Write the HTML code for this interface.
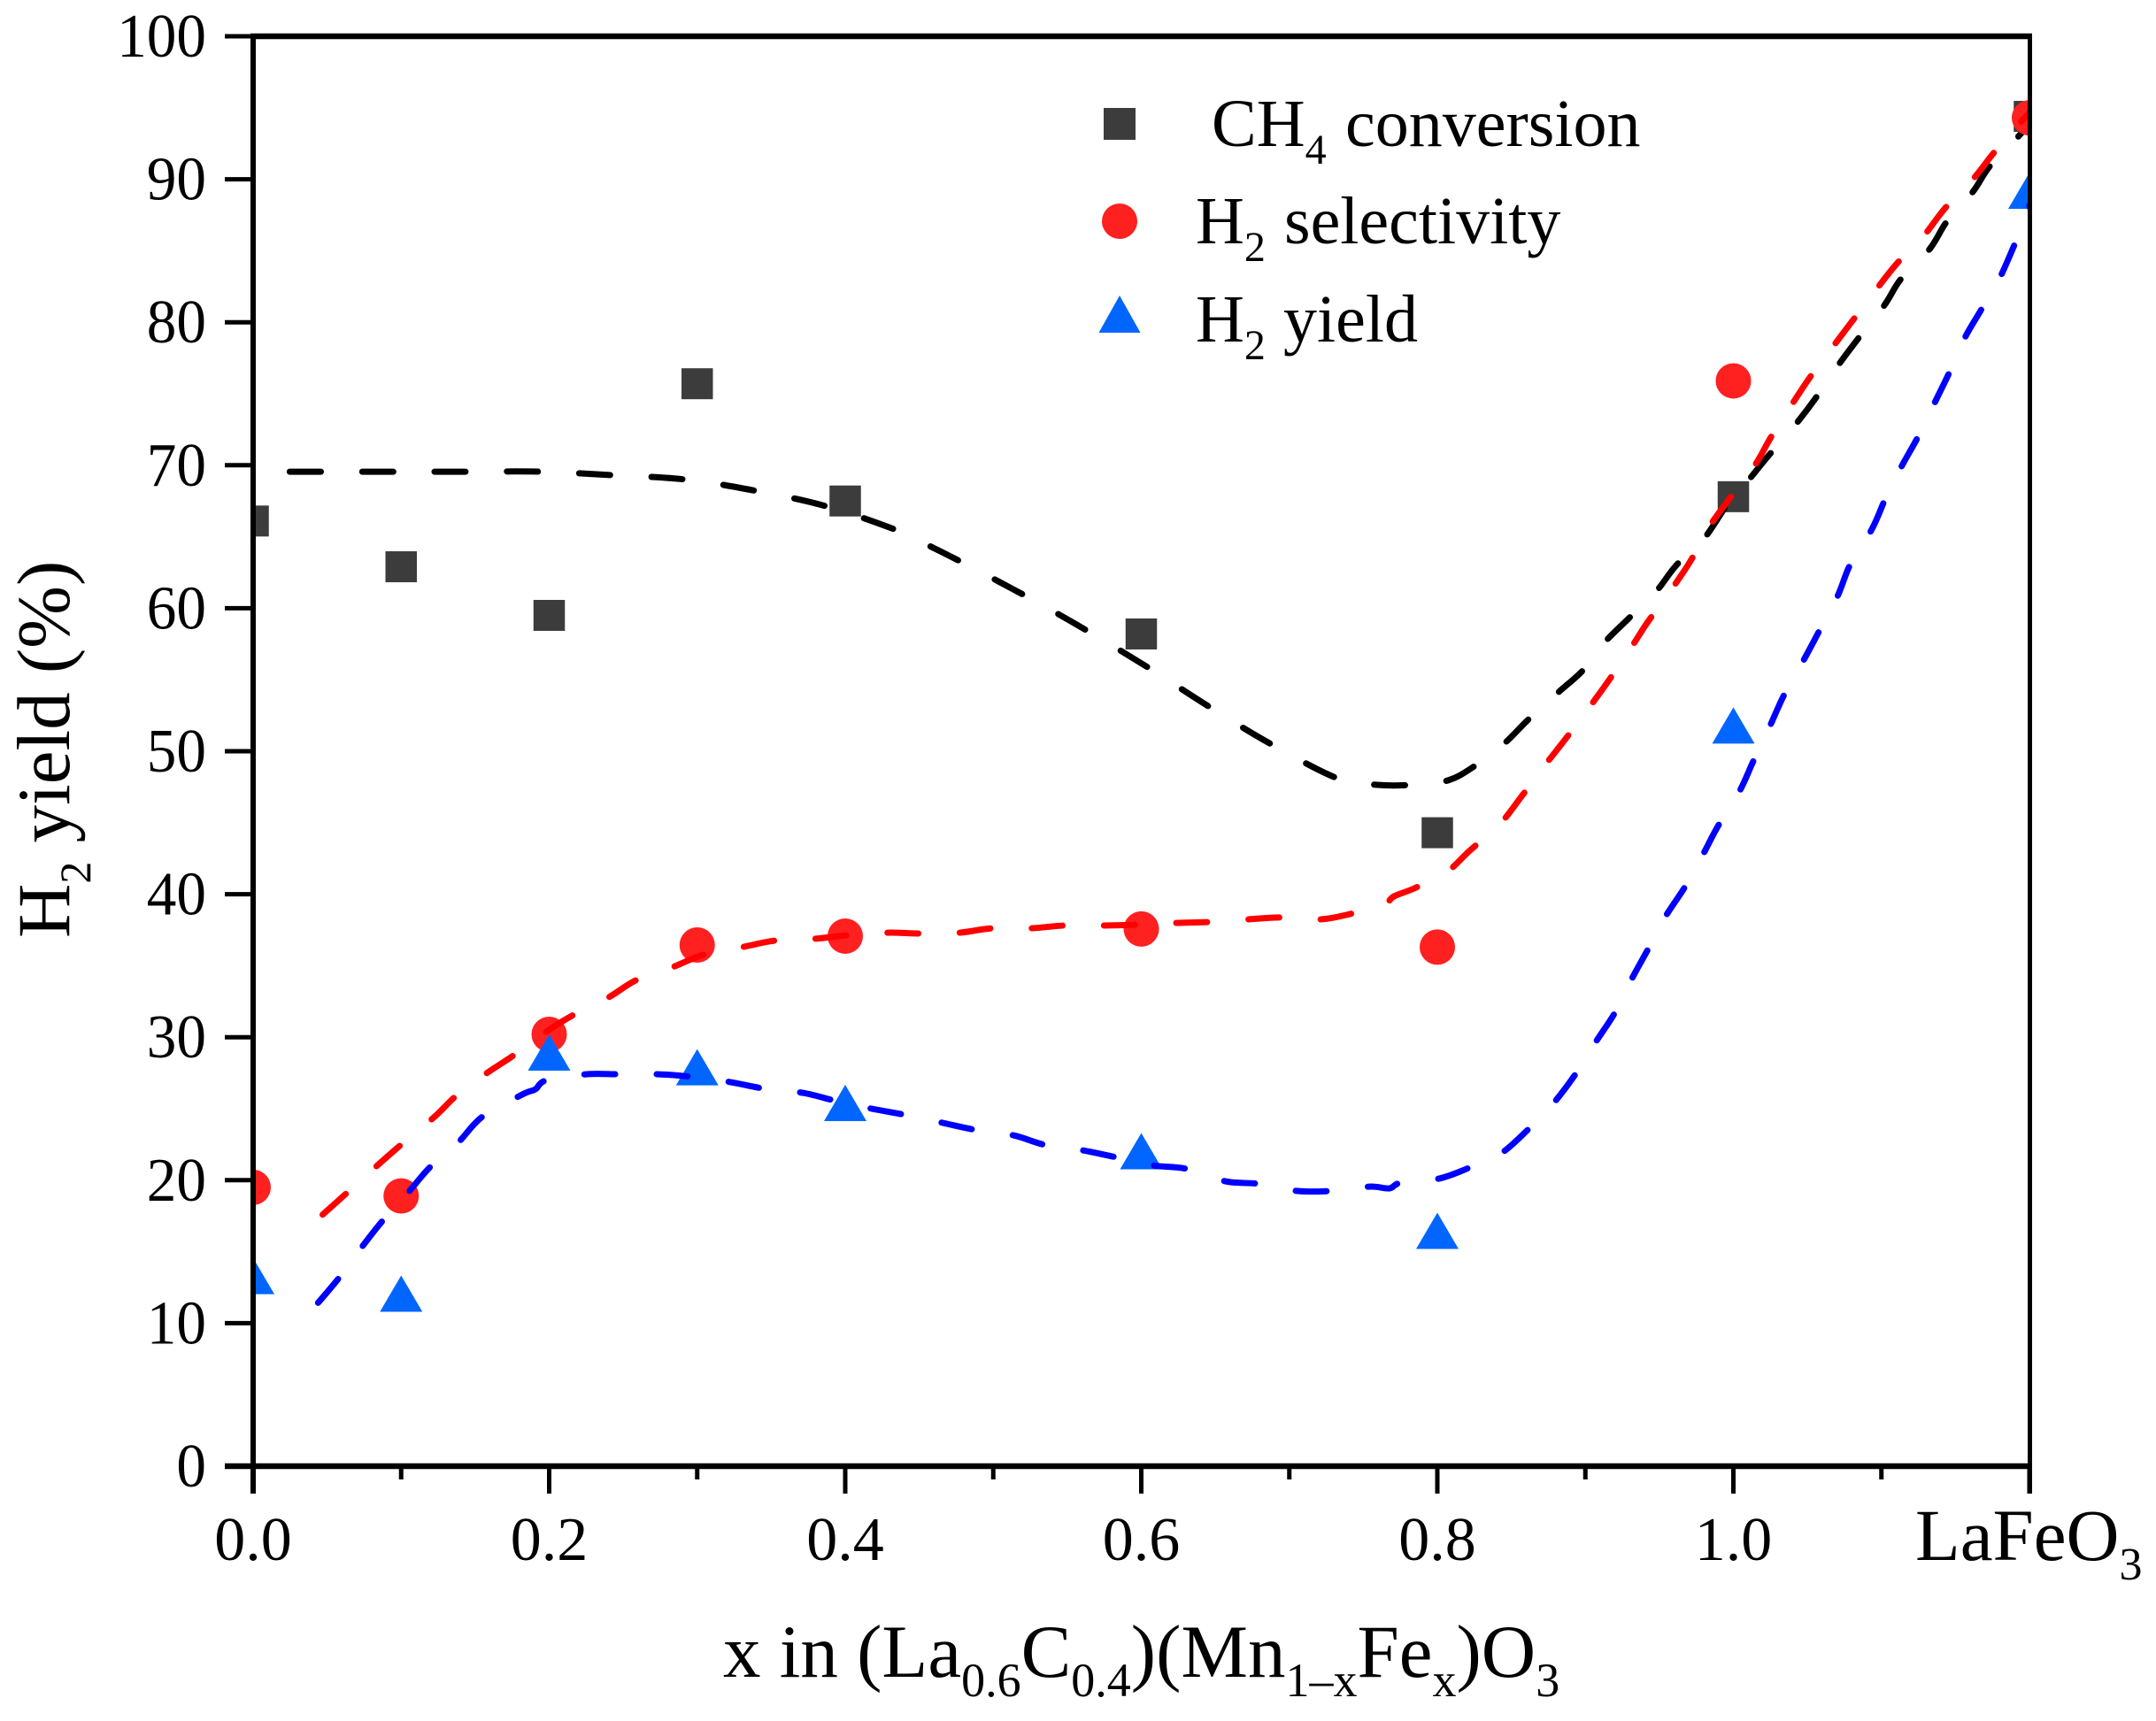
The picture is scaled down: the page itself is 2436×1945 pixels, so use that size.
<!DOCTYPE html>
<html lang="en">
<head>
<meta charset="utf-8">
<title>H2 yield chart</title>
<style>
html,body{margin:0;padding:0;background:#fff;}
svg{display:block;}
text{font-family:"Liberation Serif",serif;fill:#000;}
</style>
</head>
<body>
<svg id="chart" width="2436" height="1945" viewBox="0 0 2436 1945" xmlns="http://www.w3.org/2000/svg">
<defs><clipPath id="plot-clip"><rect x="286" y="0" width="2007" height="1657"/></clipPath></defs>
<rect width="2436" height="1945" fill="#fff"/>
<g id="marks" clip-path="url(#plot-clip)"></g>
<g id="axes"></g>
<text x="817" y="1895" font-size="85">x in (La<tspan font-size="54" dy="22">0.6</tspan><tspan dy="-22">C</tspan><tspan font-size="54" dy="22">0.4</tspan><tspan dy="-22">)(Mn</tspan><tspan font-size="54" dy="22">1–x</tspan><tspan dy="-22">Fe</tspan><tspan font-size="54" dy="22">x</tspan><tspan dy="-22">)O</tspan><tspan font-size="54" dy="22">3</tspan></text>
<text transform="translate(78,1060) rotate(-90)" x="0" y="0" font-size="85">H<tspan font-size="50" dy="24">2</tspan><tspan dy="-24"> yield (%)</tspan></text>
<text x="2164" y="1763" font-size="83">LaFeO<tspan font-size="52" dy="22">3</tspan></text>
<g>
<rect x="1247" y="122" width="36" height="36" fill="#3c3c3c"/>
<text x="1369" y="165" font-size="76">CH<tspan font-size="48" dy="20">4</tspan><tspan x="1520" dy="-20">conversion</tspan></text>
<circle cx="1265" cy="250" r="20" fill="#ff2020"/>
<text x="1351" y="275" font-size="76">H<tspan font-size="48" dy="20">2</tspan><tspan x="1451" dy="-20">selectivity</tspan></text>
<polygon points="1265,334 1288.5,376 1241.5,376" fill="#0066ff"/>
<text x="1351" y="386" font-size="76">H<tspan font-size="48" dy="20">2</tspan><tspan x="1450" dy="-20">yield</tspan></text>
</g>
</svg>
<script>
const markerX = [0, 0.1, 0.2, 0.3, 0.4, 0.6, 0.8, 1.0, 1.2];
const ch4Conversion = [66.1, 62.9, 59.5, 75.7, 67.5, 58.2, 44.3, 67.8, 94.4];
const h2Selectivity = [19.5, 18.9, 30.2, 36.45, 37.07, 37.57, 36.3, 75.9, 94.3];
const h2Yield = [13.3, 12.07, 28.93, 27.9, 25.4, 22.03, 16.46, 51.8, 89.2];

const ch4FitX = [.0227,.0963,.1453,.1943,.2428,.2924,.3402,.3868,.4329,.4568,.4759,.5202,.5626,.6051,.6451,.6876,.7330,.7593,.7827,.8072,.8257,.8454,.8616,.8813,.8981,.9130,.9286,.9471,.9614,.9800,.9967,1.0105,1.0242,1.0404,1.0547,1.0703,1.0846,1.1020,1.1133,1.1324,1.1444,1.1617,1.1731,1.1910,1.2];
const ch4FitY = [69.55,69.55,69.55,69.55,69.31,69.0,68.2,67.14,65.53,64.36,63.37,60.95,58.48,55.82,53.16,50.5,48.08,47.65,47.65,47.96,49.0,50.56,52.23,54.08,55.63,57.61,59.22,61.08,63.0,64.85,67.39,69.0,70.73,72.65,74.57,76.92,78.9,81.19,83.04,85.09,87.07,89.11,90.9,92.82,93.87];

const selFitX = [.0454,.0628,.0819,.1004,.1220,.1375,.1578,.1758,.1979,.2164,.2392,.2595,.2834,.3043,.3312,.3528,.3791,.4012,.4281,.4508,.4771,.4992,.5256,.5477,.5740,.5973,.6230,.6463,.6720,.6948,.7211,.7438,.7635,.7707,.7844,.8066,.8221,.8419,.8574,.8712,.8867,.9016,.9154,.9309,.9417,.9578,.9710,.9835,.9967,1.0141,1.0254,1.0392,1.0523,1.0667,1.0816,1.0966,1.1109,1.1283,1.1432,1.1617,1.1773,1.2];
const selFitY = [17.45,19.06,20.85,22.52,24.38,25.93,27.48,28.71,30.38,31.56,32.73,34.03,34.9,35.77,36.32,36.76,36.88,37.13,37.31,37.25,37.31,37.62,37.62,37.81,37.81,37.87,37.99,38.06,38.24,38.37,38.24,38.68,39.23,39.85,40.41,41.58,43.07,44.86,46.91,48.82,50.87,52.91,54.89,57.24,58.97,61.26,63.3,65.66,67.57,69.93,71.97,74.2,76.24,78.22,80.26,82.3,84.16,86.01,88.0,89.98,92.02,94.68];

const yieldFitX = [.0425,.0586,.0741,.0873,.1046,.1196,.1381,.1549,.1818,.1907,.1979,.2248,.2481,.2738,.2966,.3223,.3444,.3713,.3952,.4179,.4401,.4658,.4885,.5136,.5351,.5602,.5830,.6075,.6308,.6565,.6792,.7049,.7283,.7540,.7677,.7749,.8012,.8227,.8425,.8604,.8783,.8933,.9076,.9202,.9321,.9429,.9537,.9674,.9788,.9895,1.0039,1.0135,1.0248,1.0344,1.0475,1.0577,1.0703,1.0792,1.0936,1.1031,1.1133,1.1246,1.1360,1.1456,1.1563,1.1671,1.1803,1.1982,1.2];
const yieldFitY = [11.26,13.24,15.41,17.14,19.12,20.92,22.59,24.44,25.99,26.36,26.98,27.41,27.41,27.41,27.23,26.86,26.42,26.11,25.5,25.0,24.57,24.01,23.51,23.14,22.46,22.09,21.6,21.04,20.79,19.93,19.74,19.25,19.25,19.55,19.43,19.8,20.11,20.92,21.84,23.45,25.37,27.41,29.76,31.75,34.22,36.26,38.37,40.53,42.64,44.74,47.15,49.32,51.79,53.96,56.37,58.35,60.83,63.12,65.53,67.76,69.86,71.97,74.38,76.42,78.9,80.82,83.17,87.5,88.18];

const yTicks = [0, 10, 20, 30, 40, 50, 60, 70, 80, 90, 100];
const xMajorTicks = [0, 0.2, 0.4, 0.6, 0.8, 1.0, 1.2];
const xMinorTicks = [0.1, 0.3, 0.5, 0.7, 0.9, 1.1];
const xTickLabels = ["0.0", "0.2", "0.4", "0.6", "0.8", "1.0"];

const NS = "http://www.w3.org/2000/svg";
const marks = document.getElementById("marks");
const axes = document.getElementById("axes");
const sx = v => 286 + v / 1.2 * 2007;
const sy = v => 1657 - v / 100 * 1616;

function make(tag, attrs, parent) {
  const el = document.createElementNS(NS, tag);
  for (const k in attrs) el.setAttribute(k, attrs[k]);
  parent.appendChild(el);
  return el;
}

function smoothPath(xs, ys) {
  const p = xs.map((x, i) => [sx(x), sy(ys[i])]);
  let d = "M" + p[0][0].toFixed(1) + " " + p[0][1].toFixed(1);
  for (let i = 0; i < p.length - 1; i++) {
    const a = p[Math.max(i - 1, 0)], b = p[i], c = p[i + 1], e = p[Math.min(i + 2, p.length - 1)];
    const c1x = b[0] + (c[0] - a[0]) / 6, c1y = b[1] + (c[1] - a[1]) / 6;
    const c2x = c[0] - (e[0] - b[0]) / 6, c2y = c[1] - (e[1] - b[1]) / 6;
    d += "C" + [c1x, c1y, c2x, c2y, c[0], c[1]].map(n => n.toFixed(1)).join(" ");
  }
  return d;
}

function drawFit(xs, ys, color, name, endsBack, periods) {
  const n = xs.length - endsBack + 1;
  const probe = make("path", {d: smoothPath(xs.slice(0, n), ys.slice(0, n))}, marks);
  const period = probe.getTotalLength() / periods;
  marks.removeChild(probe);
  const el = make("path", {d: smoothPath(xs, ys), fill: "none", stroke: color, "stroke-width": 7, "stroke-linecap": "round", "stroke-dasharray": "35 " + (period - 35).toFixed(2), "stroke-dashoffset": -3.5}, marks);
  
  
}

markerX.forEach((x, i) => {
  const el = make("rect", {x: sx(x) - 17.75, y: sy(ch4Conversion[i]) - 17.5, width: 35.5, height: 35, fill: "#3c3c3c"}, marks);
  
  
});
drawFit(ch4FitX, ch4FitY, "#000", "ch4-conversion-fit-line", 2, 29);

markerX.forEach((x, i) => {
  const el = make("ellipse", {cx: sx(x), cy: sy(h2Selectivity[i]), rx: 20, ry: 20, fill: "#ff2020"}, marks);
  
  
});
drawFit(selFitX, selFitY, "#f00", "h2-selectivity-fit-line", 3, 29);

markerX.forEach((x, i) => {
  const cx = sx(x), cy = sy(h2Yield[i]);
  const el = make("polygon", {points: cx + "," + (cy - 20.5) + " " + (cx + 24) + "," + (cy + 20.5) + " " + (cx - 24) + "," + (cy + 20.5), fill: "#0066ff"}, marks);
  
  
});
drawFit(yieldFitX, yieldFitY, "#00f", "h2-yield-fit-line", 3, 32);

const leftSpine = make("line", {x1: 286, x2: 286, y1: 38, y2: 1688, stroke: "#000", "stroke-width": 6}, axes);


const rightSpine = make("line", {x1: 2293.5, x2: 2293.5, y1: 38, y2: 1688, stroke: "#000", "stroke-width": 5}, axes);


const topSpine = make("line", {x1: 283, x2: 2296, y1: 41, y2: 41, stroke: "#000", "stroke-width": 6.5}, axes);


const bottomSpine = make("line", {x1: 283, x2: 2296, y1: 1657, y2: 1657, stroke: "#000", "stroke-width": 6.5}, axes);



yTicks.forEach(v => {
  const t = make("line", {x1: 254, x2: 286, y1: sy(v), y2: sy(v), stroke: "#000", "stroke-width": v === 0 ? 6.5 : 5}, axes);
  
  
  const l = make("text", {transform: "translate(233," + (sy(v) + 23) + ") scale(0.96,1)", "font-size": 70, "text-anchor": "end"}, axes);
  l.textContent = v;
  
  
});
xMajorTicks.forEach((v, i) => {
  const t = make("line", {x1: sx(v), x2: sx(v), y1: 1657, y2: 1688, stroke: "#000", "stroke-width": 5}, axes);
  
  
  if (xTickLabels[i] !== undefined) {
    const l = make("text", {x: sx(v), y: 1763, "font-size": 70, "text-anchor": "middle"}, axes);
    l.textContent = xTickLabels[i];
    
    
  }
});
xMinorTicks.forEach(v => {
  const t = make("line", {x1: sx(v), x2: sx(v), y1: 1657, y2: 1672, stroke: "#000", "stroke-width": 5}, axes);
  
  
});
</script>
</body>
</html>
